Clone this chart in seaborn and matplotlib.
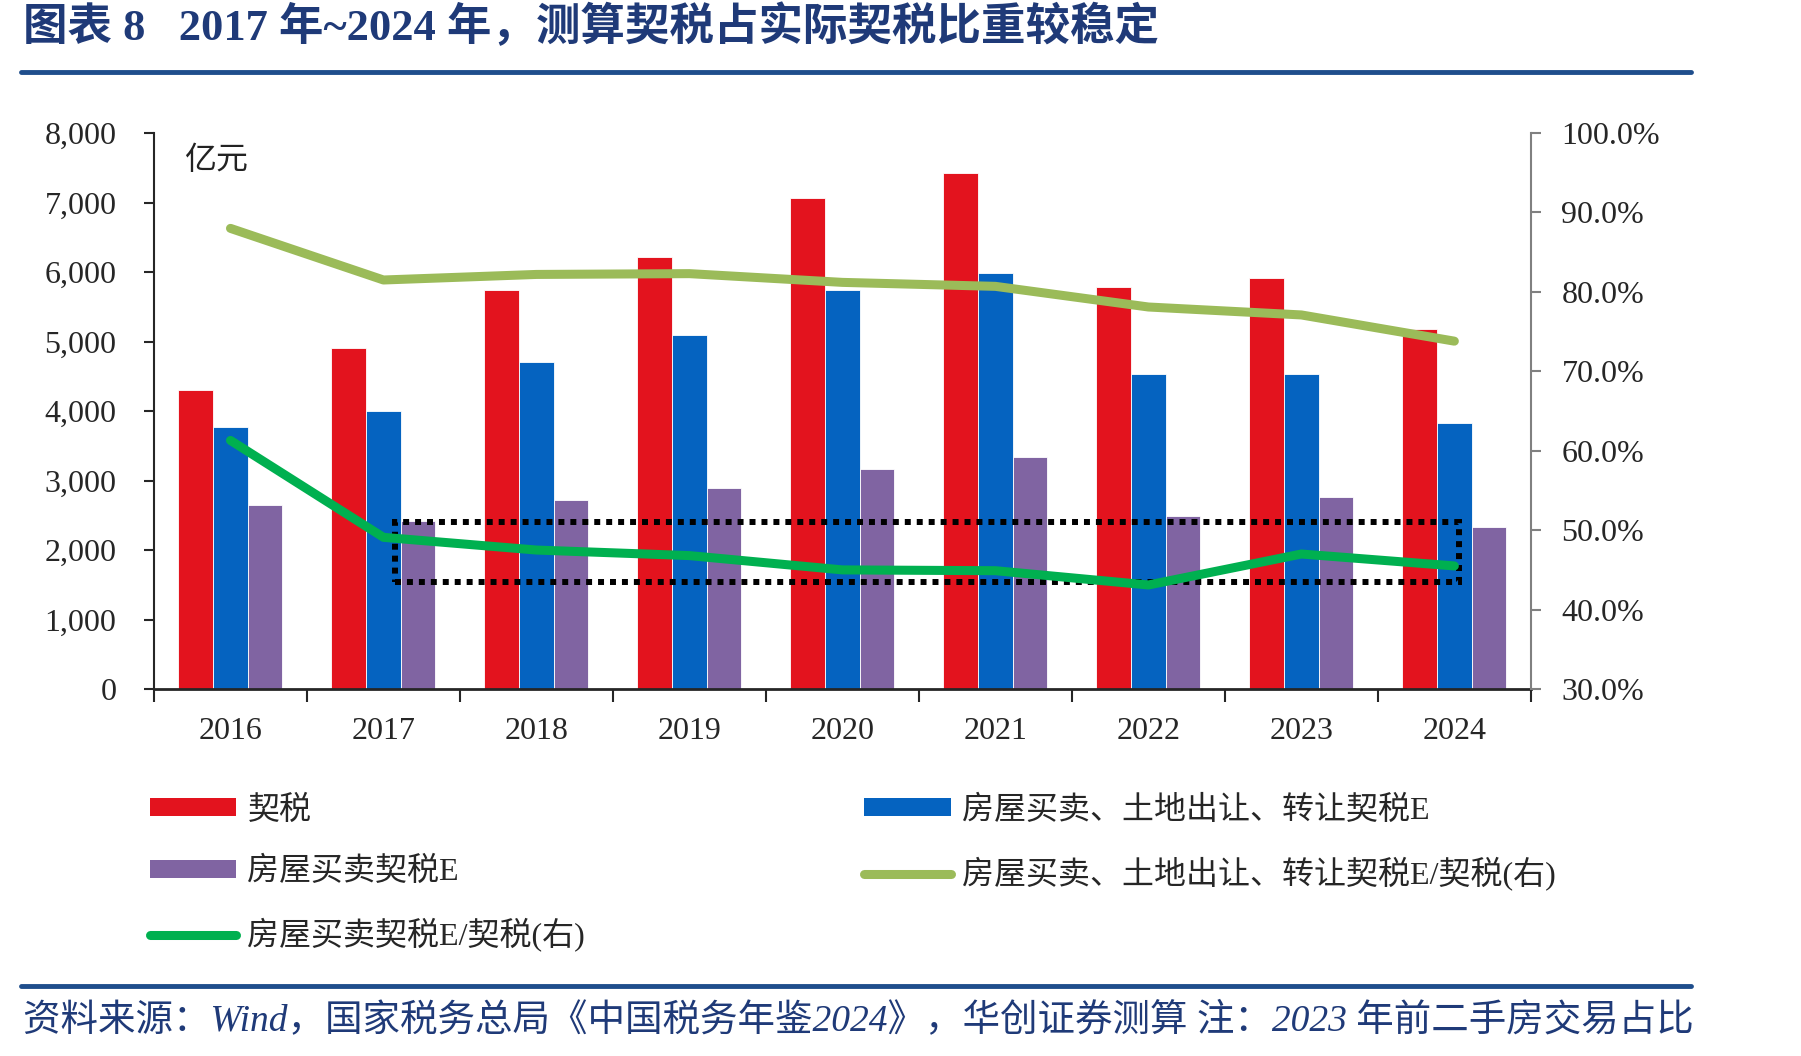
import numpy as np
import pandas as pd
import seaborn as sns
import matplotlib.pyplot as plt
from matplotlib.patches import Rectangle, Patch
from matplotlib.lines import Line2D
from matplotlib.ticker import FuncFormatter, MultipleLocator

# 데이터
years = ['2016', '2017', '2018', '2019', '2020', '2021', '2022', '2023', '2024']
qishui = [4300, 4910, 5735, 6213, 7067, 7420, 5780, 5911, 5177]          # 契税
fangwu_tudi = [3770, 4000, 4705, 5100, 5735, 5985, 4527, 4527, 3821]     # 房屋买卖、土地出让、转让契税E
fangwu = [2650, 2415, 2715, 2893, 3172, 3343, 2489, 2768, 2335]          # 房屋买卖契税E
ratio_all = [88.0, 81.5, 82.2, 82.3, 81.2, 80.7, 78.1, 77.1, 73.8]       # 右轴
ratio_house = [61.3, 49.1, 47.5, 46.8, 45.0, 44.9, 43.1, 47.0, 45.5]     # 右轴

bar_names = ['契税', '房屋买卖、土地出让、转让契税E', '房屋买卖契税E']
line_names = ['房屋买卖、土地出让、转让契税E/契税(右)', '房屋买卖契税E/契税(右)']
bar_colors = ['#E3131E', '#0563C0', '#8064A2']
line_colors = ['#9BBB59', '#00B050']

sns.set_style('ticks')
plt.rcParams['font.family'] = ['Liberation Serif', 'Noto Sans CJK SC']
plt.rcParams['axes.unicode_minus'] = False

df_bar = pd.DataFrame({
    'year': years * 3,
    'series': np.repeat(bar_names, len(years)),
    'value': qishui + fangwu_tudi + fangwu,
})
df_line = pd.DataFrame({
    'pos': list(range(len(years))) * 2,
    'series': np.repeat(line_names, len(years)),
    'value': ratio_all + ratio_house,
})

fig = plt.figure(figsize=(18.01, 10.56), dpi=100)
ax = fig.add_axes([0.0855, 0.3475, 0.7645, 0.5265])

sns.barplot(data=df_bar, x='year', y='value', hue='series', hue_order=bar_names,
            palette=bar_colors, width=0.68, gap=0, saturation=1,
            edgecolor='white', linewidth=0.6, legend=False, ax=ax)

ax.set_ylim(0, 8000)
ax.yaxis.set_major_locator(MultipleLocator(1000))
ax.yaxis.set_major_formatter(FuncFormatter(lambda v, p: f'{int(v):,}'))
ax.set_xlim(-0.5, len(years) - 0.5)
ax.set_xlabel('')
ax.set_ylabel('')
ax.tick_params(axis='y', direction='out', length=7, width=1.5, labelsize=23, pad=20)
ax.tick_params(axis='x', which='major', length=0, labelsize=23, pad=20)
ax.set_xticks(np.arange(-0.5, len(years), 1), minor=True)
ax.tick_params(axis='x', which='minor', direction='out', length=9, width=1.5)
for s in ['top', 'right']:
    ax.spines[s].set_visible(False)
ax.spines['left'].set_linewidth(1.5)
ax.spines['bottom'].set_linewidth(2)
ax.text(0.022, 0.95, '亿元', transform=ax.transAxes, fontsize=23,
        va='center', ha='left', color='#222222')

# 오른쪽 축 (비율)
ax2 = ax.twinx()
sns.lineplot(data=df_line, x='pos', y='value', hue='series', hue_order=line_names,
             palette=line_colors, linewidth=6.5, solid_capstyle='round',
             legend=False, ax=ax2)
ax2.set_ylim(30, 100)
ax2.set_xlim(-0.5, len(years) - 0.5)
ax2.yaxis.set_major_locator(MultipleLocator(10))
ax2.yaxis.set_major_formatter(FuncFormatter(lambda v, p: f'{v:.1f}%'))
ax2.set_ylabel('')
ax2.set_xlabel('')
ax2.tick_params(axis='y', direction='out', length=7, width=1.5, color='#808080',
                labelsize=23, pad=15)
for s in ['top', 'left', 'bottom']:
    ax2.spines[s].set_visible(False)
ax2.spines['right'].set_color('#808080')
ax2.spines['right'].set_linewidth(1.5)

# 점선 박스
ax2.add_patch(Rectangle((1.075, 43.45), 8.03 - 1.075, 50.97 - 43.45, fill=False,
                        edgecolor='black', linewidth=4.3, linestyle=(0, (1, 1))))

# 범례
def bar_handle(c):
    return Patch(facecolor=c, edgecolor='none')

def line_handle(c):
    return Line2D([], [], color=c, linewidth=6.5, solid_capstyle='round')

leg_kw = dict(frameon=False, fontsize=23, handlelength=2.7, handleheight=0.5,
              handletextpad=0.35, labelspacing=0.98, borderpad=0, borderaxespad=0,
              loc='upper left')
fig.legend([bar_handle(bar_colors[0]), bar_handle(bar_colors[2]), line_handle(line_colors[1])],
           [bar_names[0], bar_names[2], line_names[1]],
           bbox_to_anchor=(0.0833, 0.247), **leg_kw)
fig.legend([bar_handle(bar_colors[1]), line_handle(line_colors[0])],
           [bar_names[1], line_names[0]],
           bbox_to_anchor=(0.480, 0.247), **leg_kw)

# 제목 / 출처
navy = '#1F3A78'
fig.text(0.0128, 0.975, '图表 8   2017 年~2024 年，测算契税占实际契税比重较稳定',
         fontsize=32, fontweight='bold', color=navy, va='center', ha='left')
fig.add_artist(Line2D([0.0117, 0.939], [0.932, 0.932], color='#1F4E8C', linewidth=3.5))
fig.add_artist(Line2D([0.0117, 0.939], [0.066, 0.066], color='#1F4E8C', linewidth=3.5))
fig.text(0.0128, 0.034,
         '资料来源：Wind，国家税务总局《中国税务年鉴2024》，华创证券测算 注：2023 年前二手房交易占比',
         fontsize=27, style='italic', color=navy, va='center', ha='left')

fig.savefig('out.png', dpi=100, facecolor='white')
